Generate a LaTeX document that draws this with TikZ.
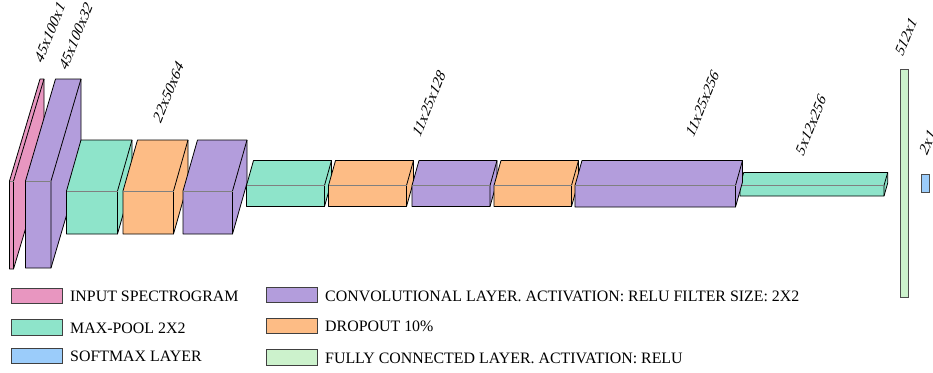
\documentclass[tikz,border=0pt]{standalone}
\usepackage{fontspec}
\setmainfont{Liberation Serif}
\definecolor{cpink}{RGB}{232,150,192}
\definecolor{cpurple}{RGB}{179,157,220}
\definecolor{cmint}{RGB}{142,228,202}
\definecolor{corange}{RGB}{253,188,133}
\definecolor{cblue}{RGB}{155,204,250}
\definecolor{clgreen}{RGB}{204,242,204}
% #1 x, #2 y (front top-left), #3 width, #4 height, #5 depth dx, #6 depth dy, #7 colour
\newcommand{\layerbox}[7]{%
  \filldraw[fill=#7, draw=black, line width=0.8pt, line join=round] (#1,#2) -- ++(#5,-#6) -- ++(#3,0) -- ++(0,#4) -- ++(-#5,#6) -- ++(-#3,0) -- cycle;
  \draw[black, line width=0.8pt] ({#1+#3},#2) -- ++(#5,-#6) ({#1+#3},#2) -- ++(0,#4);
  \draw[black!50, line width=0.8pt] (#1,#2) -- ++(#3,0);
}
\tikzset{
  dimlabel/.style={cm={0.3746,0.9272,-0.7431,0.6691,(0,0)}, font=\fontsize{15.5}{15.5}\selectfont, inner sep=0pt},
  legtext/.style={anchor=base west, font=\fontsize{15.9}{16}\selectfont, inner sep=0pt},
  swatch/.style={draw=black!75, line width=0.8pt, inner sep=0pt, minimum width=51pt, minimum height=15.5pt}
}
\begin{document}
\begin{tikzpicture}[x=1pt,y=-1pt]
\useasboundingbox (0,0) rectangle (933,372);
% blocks
\layerbox{9.5}{181}{4}{88}{30.5}{102}{cpink}
\layerbox{25.5}{181}{25.5}{87}{30}{102}{cpurple}
\layerbox{66.5}{191}{51}{43}{14.5}{51}{cmint}
\layerbox{123}{191}{50.5}{43}{14.5}{51}{corange}
\layerbox{183}{191}{49.5}{43}{14.5}{51}{cpurple}
\layerbox{246.5}{185.5}{78}{21}{7}{25}{cmint}
\layerbox{328.5}{185.5}{78}{21}{7}{25}{corange}
\layerbox{412}{185.5}{78}{21}{7}{25}{cpurple}
\layerbox{494}{185.5}{77.5}{21}{7}{25}{corange}
\layerbox{740}{185.5}{144}{10.5}{3.7}{13}{cmint}
\layerbox{575}{185.5}{160.5}{21.5}{7}{25}{cpurple}
\filldraw[fill=clgreen, draw=black!70, line width=0.8pt] (900.5,69.5) rectangle (908.5,297.5);
\filldraw[fill=cblue, draw=black!70, line width=0.8pt] (921,174) rectangle (929,192);
% dimension labels
\node[dimlabel] (d1) at (50,32) {45x100x1};
\node[dimlabel] (d2) at (76,36) {45x100x32};
\node[dimlabel] (d3) at (168.5,92) {22x50x64};
\node[dimlabel] (d4) at (429,103.5) {11x25x128};
\node[dimlabel] (d5) at (702.5,103.5) {11x25x256};
\node[dimlabel] (d6) at (811,125) {5x12x256};
\node[dimlabel] (d7) at (906,36.5) {512x1};
\node[dimlabel] (d8) at (927.5,142) {2x1};
% legend
\node[swatch, fill=cpink] (s1) at (37,296) {};
\node[swatch, fill=cmint] (s2) at (37,327.5) {};
\node[swatch, fill=cblue] (s3) at (37,355.7) {};
\node[swatch, fill=cpurple] (s4) at (291.5,295) {};
\node[swatch, fill=corange] (s5) at (291.5,325.7) {};
\node[swatch, fill=clgreen] (s6) at (291.5,357.5) {};
\node[legtext] (t1) at (70,301) {INPUT SPECTROGRAM};
\node[legtext] (t2) at (70,333.5) {MAX-POOL 2X2};
\node[legtext] (t3) at (70,361.5) {SOFTMAX LAYER};
\node[legtext] (t4) at (325,301) {CONVOLUTIONAL LAYER. ACTIVATION: RELU FILTER SIZE: 2X2};
\node[legtext] (t5) at (325,331.5) {DROPOUT 10\%};
\node[legtext] (t6) at (325,363) {FULLY CONNECTED LAYER. ACTIVATION: RELU};
\end{tikzpicture}
\end{document}
